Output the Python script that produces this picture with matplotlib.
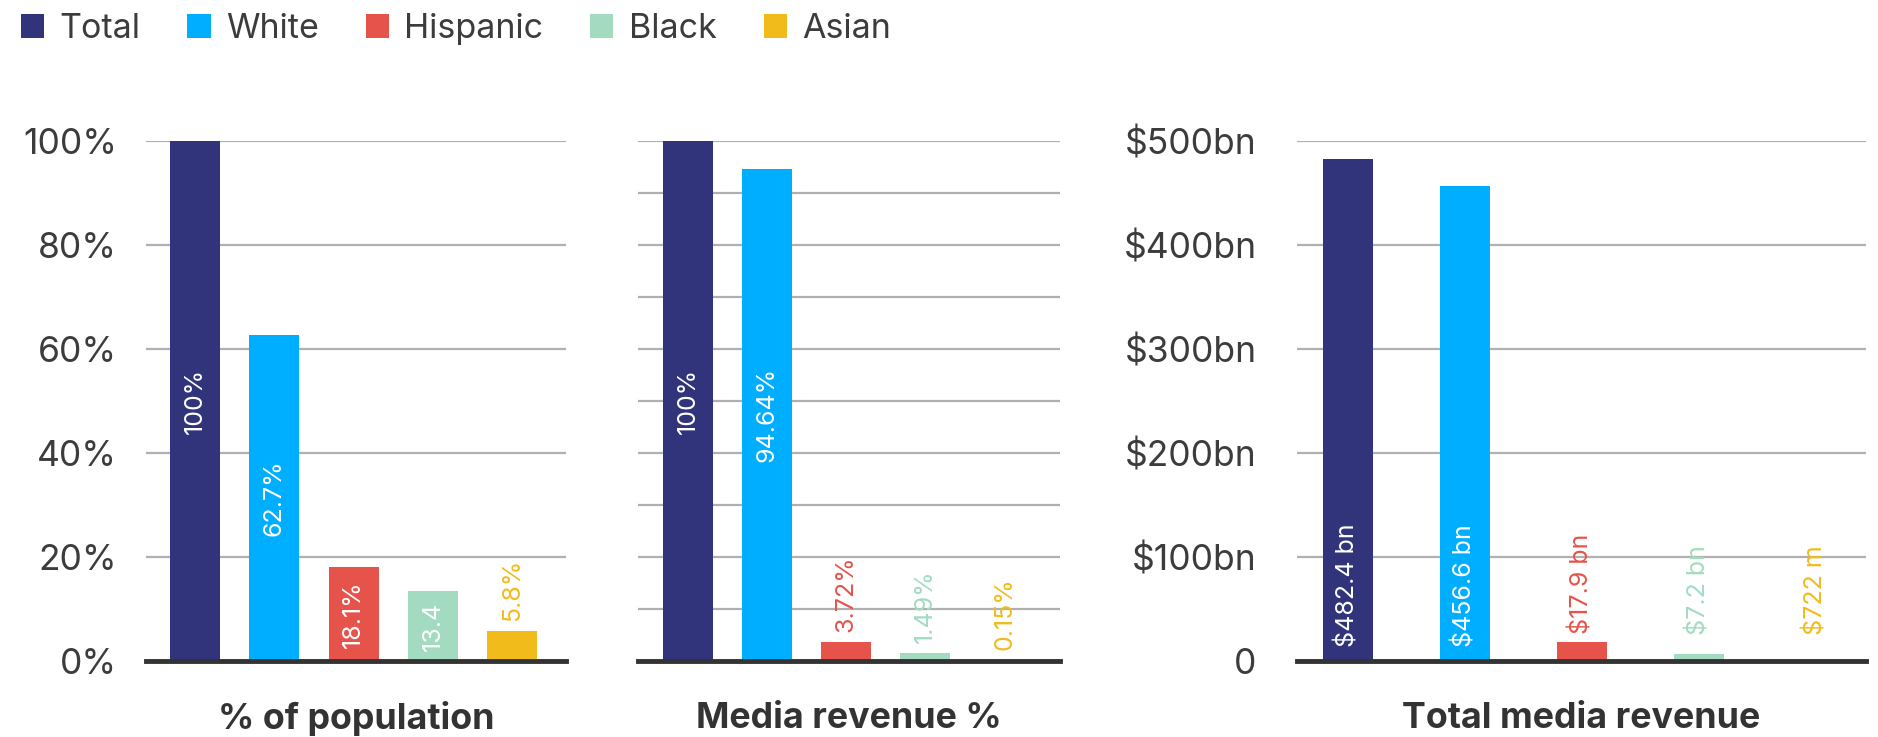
import matplotlib
matplotlib.use("Agg")
import numpy as np
import matplotlib.pyplot as plt
from matplotlib.patches import Patch
from matplotlib.ticker import MultipleLocator

# ---- data -------------------------------------------------------------
categories = ["Total", "White", "Hispanic", "Black", "Asian"]
colors = ["#31347a", "#00aeff", "#e5534b", "#a3dbc1", "#f2bb1c"]

population_pct = [100, 62.7, 18.1, 13.4, 5.8]
population_labels = ["100%", "62.7%", "18.1%", "13.4", "5.8%"]

media_pct = [100, 94.64, 3.72, 1.49, 0.15]
media_labels = ["100%", "94.64%", "3.72%", "1.49%", "0.15%"]

revenue_bn = [482.4, 456.6, 17.9, 7.2, 0.722]
revenue_labels = ["$482.4 bn", "$456.6 bn", "$17.9 bn", "$7.2 bn", "$722 m"]

pct_ticks = [0, 20, 40, 60, 80, 100]
pct_tick_labels = ["0%", "20%", "40%", "60%", "80%", "100%"]
rev_ticks = [0, 100, 200, 300, 400, 500]
rev_tick_labels = ["0", "$100bn", "$200bn", "$300bn", "$400bn", "$500bn"]

panel_titles = ["% of population", "Media revenue %", "Total media revenue"]

# ---- style ------------------------------------------------------------
plt.rcParams["font.family"] = ["Inter", "DejaVu Sans"]
TEXT = "#3c3c3c"
GRID = "#b0b0b0"
BASE = "#333333"

W, H = 1878, 737
fig = plt.figure(figsize=(W / 100, H / 100), dpi=100)
fig.patch.set_facecolor("white")


def px_box(x0, x1, y_top, y_bot):
    return [x0 / W, 1 - y_bot / H, (x1 - x0) / W, (y_bot - y_top) / H]


ax1 = fig.add_axes(px_box(146, 566, 141, 661))
ax2 = fig.add_axes(px_box(638, 1060, 141, 661))
ax3 = fig.add_axes(px_box(1297, 1866, 141, 661))


def setup(ax, values, ymax, step, ticks, ticklabels, width, pad_l, pad_r,
          tick_pad):
    x = np.arange(len(values))
    ax.bar(x, values, width=width, color=colors, zorder=2)
    ax.set_xlim(-pad_l, len(values) - 1 + pad_r)
    ax.set_ylim(0, ymax)
    ax.yaxis.set_major_locator(MultipleLocator(step))
    ax.grid(axis="y", color=GRID, lw=1.6, zorder=0)
    ax.set_axisbelow(True)
    for s in ax.spines.values():
        s.set_visible(False)
    ax.set_xticks([])
    if ticks is not None:
        ax.set_yticks(ticks)
        ax.set_yticklabels(ticklabels)
    else:
        ax.set_yticklabels([])
    ax.tick_params(axis="y", length=0, pad=tick_pad, labelsize=25.5,
                   labelcolor=TEXT)
    ax.axhline(0, color=BASE, lw=3.5, zorder=3, clip_on=False)


setup(ax1, population_pct, 100, 20, pct_ticks, pct_tick_labels,
      0.63, 0.62, 0.68, 21)
setup(ax2, media_pct, 100, 10, None, None, 0.63, 0.63, 0.70, 21)
setup(ax3, revenue_bn, 500, 100, rev_ticks, rev_tick_labels,
      0.43, 0.435, 0.43, 29)

fig.canvas.draw()
renderer = fig.canvas.get_renderer()


def label_bars(ax, values, labels, mode):
    inv = ax.transData.inverted()
    base_px = ax.transData.transform((0, 0))[1]
    for i, (v, lab) in enumerate(zip(values, labels)):
        t = ax.text(i, 0, lab, rotation=90, fontsize=18, ha="center",
                    va="bottom", zorder=4)
        ext = t.get_window_extent(renderer)
        top_px = ax.transData.transform((0, v))[1]
        bar_px = top_px - base_px
        inside = ext.height + 20 < bar_px
        if inside:
            t.set_color("white")
            if mode == "center":
                t.set_va("center")
                t.set_y(v / 2)
            else:
                t.set_y(inv.transform((0, base_px + 14))[1])
        else:
            t.set_color(colors[i])
            if mode == "center":
                y_px = top_px + 10
            else:
                y_px = max(top_px + 8, base_px + 26)
            t.set_y(inv.transform((0, y_px))[1])


label_bars(ax1, population_pct, population_labels, "center")
label_bars(ax2, media_pct, media_labels, "center")
label_bars(ax3, revenue_bn, revenue_labels, "base")

for ax, title in zip([ax1, ax2, ax3], panel_titles):
    ax.text(0.5, -0.11, title, transform=ax.transAxes, ha="center",
            va="center", fontsize=25.8, fontweight="bold", color="#333333")

handles = [Patch(facecolor=c, edgecolor="none") for c in colors]
fig.legend(handles, categories, loc="upper left",
           bbox_to_anchor=(21 / W, 1 - 13 / H),
           ncol=5, frameon=False, fontsize=24.5, labelcolor=TEXT,
           handlelength=0.68, handleheight=0.68, handletextpad=0.45,
           columnspacing=1.38, borderaxespad=0, borderpad=0)

fig.savefig("out.png", dpi=100, facecolor="white")
